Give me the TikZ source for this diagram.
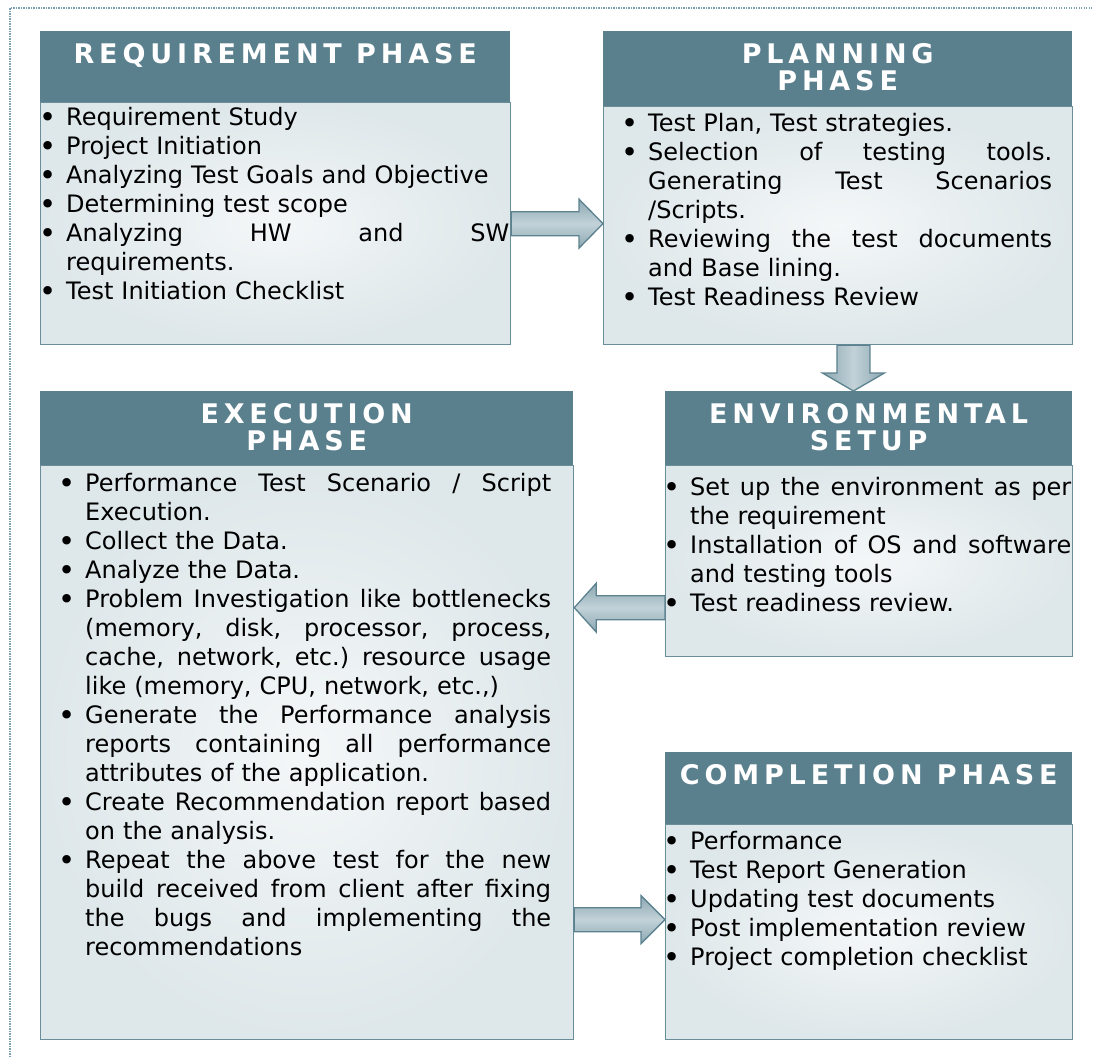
\documentclass[tikz,border=0pt]{standalone}
\usepackage{fontspec}
\setmainfont{DejaVu Sans}
\newfontfamily\hdrfont{DejaVu Sans}[LetterSpace=18]
\usetikzlibrary{calc}
\definecolor{headc}{RGB}{90,128,142}
\definecolor{bodyline}{RGB}{105,142,154}
\definecolor{bodyin}{RGB}{244,247,248}
\definecolor{bodyout}{RGB}{222,231,234}
\definecolor{arrowdk}{RGB}{140,167,177}
\definecolor{arrowlt}{RGB}{194,210,216}
\definecolor{arrowline}{RGB}{92,130,143}
\definecolor{framec}{RGB}{125,160,174}
\frenchspacing
\hfuzz=100pt \hbadness=10000
\newcommand\bul{\llap{\makebox[36pt][c]{\raisebox{-2.5pt}{\fontsize{29}{29}\selectfont\textbullet}}}\rule{0pt}{20pt}}
\newcommand\jbox[1]{\makebox[\hsize][s]{\spaceskip=0.34em plus 1em minus 0.1em\xspaceskip=\spaceskip #1}}
\newcommand\BR[1]{\noindent\bul#1\par}
\newcommand\BJ[1]{\noindent\bul\jbox{#1}\par}
\newcommand\J[1]{\noindent\jbox{#1}\par}
\newcommand\Rg[1]{\noindent#1\par}
\newcommand\harrow[5]{%
  \path[blockarrow, top color=arrowdk, bottom color=arrowdk, middle color=arrowlt]
  let \p1=(#1), \p2=(#2), \n1={2*(\x2>\x1)-1} in
  (\x1,{\y1+#3}) -- ({\x2-\n1*#5},{\y1+#3}) -- ({\x2-\n1*#5},{\y1+#4}) -- (\x2,\y1)
  -- ({\x2-\n1*#5},{\y1-#4}) -- ({\x2-\n1*#5},{\y1-#3}) -- (\x1,{\y1-#3}) -- cycle;}
\newcommand\varrow[5]{%
  \path[blockarrow, left color=arrowdk, right color=arrowdk, middle color=arrowlt]
  let \p1=(#1), \p2=(#2), \n1={2*(\y2>\y1)-1} in
  ({\x1+#3},\y1) -- ({\x1+#3},{\y2-\n1*#5}) -- ({\x1+#4},{\y2-\n1*#5}) -- (\x1,\y2)
  -- ({\x1-#4},{\y2-\n1*#5}) -- ({\x1-#3},{\y2-\n1*#5}) -- ({\x1-#3},\y1) -- cycle;}
\begin{document}
\begin{tikzpicture}[x=1pt,y=-1pt,
  headbox/.style={fill=headc, draw=none, inner sep=0, anchor=north west},
  bodybox/.style={draw=bodyline, line width=1.3pt, inner color=bodyin, outer color=bodyout, inner sep=0, anchor=north west},
  htext/.style={text=white, font=\hdrfont\bfseries\fontsize{27}{27}\selectfont, inner sep=0, anchor=north, align=center},
  btext/.style={font=\fontsize{24}{29}\selectfont, inner sep=0, anchor=north west, align=left, text=black},
  blockarrow/.style={draw=arrowline, line width=1.3pt, line join=miter},
  framedot/.style={draw=framec, line width=1.2pt, dash pattern=on 1.2pt off 1.3pt}]
\useasboundingbox (0,0) rectangle (1093,1057);
\draw[framedot] (10,1057) -- (10,8) -- (1093,8);

% Requirement phase
\node[headbox, minimum width=470, minimum height=71] (reqh) at (40,31) {};
\node[bodybox, minimum width=470, minimum height=242] (reqb) at (40,102) {};
\node[htext] (reqt) at ([yshift=-10pt]reqh.north) {\rule{0pt}{22pt}REQUIREMENT PHASE};
\node[btext, text width=443] (reql) at (66,105) {%
\BR{Requirement Study}
\BR{Project Initiation}
\BR{Analyzing Test Goals and Objective}
\BR{Determining test scope}
\BJ{Analyzing HW and SW}
\Rg{requirements.}
\BR{Test Initiation Checklist}};

% Planning phase
\node[headbox, minimum width=469, minimum height=75] (planh) at (603,31) {};
\node[bodybox, minimum width=469, minimum height=238] (planb) at (603,106) {};
\node[htext] (plant) at ([yshift=-10pt]planh.north) {\rule{0pt}{22pt}PLANNING\\PHASE};
\node[btext, text width=404] (planl) at (648,111) {%
\BR{Test Plan, Test strategies.}
\BJ{Selection of testing tools.}
\J{Generating Test Scenarios}
\Rg{/Scripts.}
\BJ{Reviewing the test documents}
\Rg{and Base lining.}
\BR{Test Readiness Review}};

% Execution phase
\node[headbox, minimum width=533, minimum height=74] (exech) at (40,391) {};
\node[bodybox, minimum width=533, minimum height=574] (execb) at (40,465) {};
\node[htext] (exect) at ([yshift=-10pt]exech.north) {\rule{0pt}{22pt}EXECUTION\\PHASE};
\node[btext, text width=466] (execl) at (85,471) {%
\BJ{Performance Test Scenario / Script}
\Rg{Execution.}
\BR{Collect the Data.}
\BR{Analyze the Data.}
\BJ{Problem Investigation like bottlenecks}
\J{(memory, disk, processor, process,}
\J{cache, network, etc.) resource usage}
\Rg{like (memory, CPU, network, etc.,)}
\BJ{Generate the Performance analysis}
\J{reports containing all performance}
\Rg{attributes of the application.}
\BJ{Create Recommendation report based}
\Rg{on the analysis.}
\BJ{Repeat the above test for the new}
\J{build received from client after fixing}
\J{the bugs and implementing the}
\Rg{recommendations}};

% Environmental setup
\node[headbox, minimum width=407, minimum height=74] (envh) at (665,391) {};
\node[bodybox, minimum width=407, minimum height=191] (envb) at (665,465) {};
\node[htext] (envt) at ([yshift=-10pt]envh.north) {\rule{0pt}{22pt}ENVIRONMENTAL\\SETUP};
\node[btext, text width=381] (envl) at (690,475) {%
\BJ{Set up the environment as per}
\Rg{the requirement}
\BJ{Installation of OS and software}
\Rg{and testing tools}
\BR{Test readiness review.}};

% Completion phase
\node[headbox, minimum width=407, minimum height=72] (comph) at (665,752) {};
\node[bodybox, minimum width=407, minimum height=215] (compb) at (665,824) {};
\node[htext] (compt) at ([yshift=-10pt]comph.north) {\rule{0pt}{22pt}COMPLETION PHASE};
\node[btext, text width=381] (compl) at (690,829) {%
\BR{Performance}
\BR{Test Report Generation}
\BR{Updating test documents}
\BR{Post implementation review}
\BR{Project completion checklist}};

% Connectors (block arrows)
\coordinate (a1s) at (reqb.east);
\coordinate (a1e) at (planb.west |- reqb.east);
\harrow{a1s}{a1e}{12pt}{24.5pt}{24pt}

\coordinate (m2) at ($(planb.south)!.5!(envh.north)$);
\coordinate (a2s) at (m2 |- planb.south);
\coordinate (a2e) at (m2 |- envh.north);
\varrow{a2s}{a2e}{16.5pt}{31pt}{18pt}

\coordinate (a3s) at ([yshift=-46.5pt]envb.west);
\coordinate (a3e) at (execb.east |- a3s);
\harrow{a3s}{a3e}{12pt}{24.5pt}{22pt}

\coordinate (a4e) at ([yshift=12.5pt]compb.west);
\coordinate (a4s) at (execb.east |- a4e);
\harrow{a4s}{a4e}{12pt}{24pt}{24pt}
\end{tikzpicture}
\end{document}
